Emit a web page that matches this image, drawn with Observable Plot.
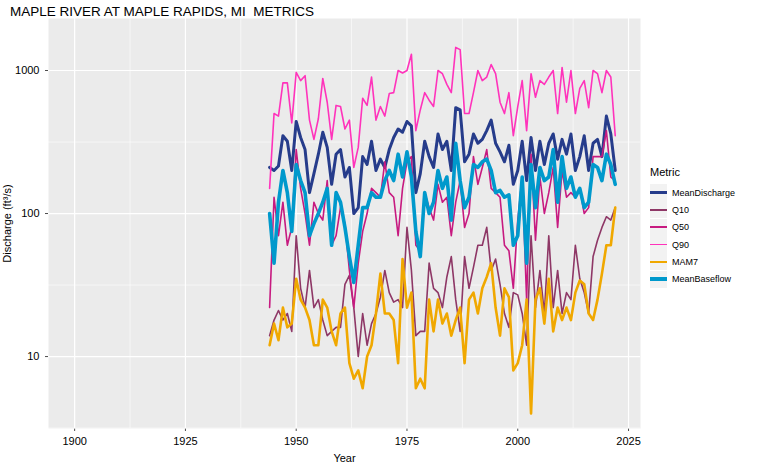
<!DOCTYPE html>
<html>
<head>
<meta charset="UTF-8">
<script src="https://cdn.jsdelivr.net/npm/d3@7"></script>
<script src="https://cdn.jsdelivr.net/npm/@observablehq/plot@0.6"></script>
<style>
  body { margin: 0; background: #fff; font-family: "Liberation Sans", Arial, sans-serif; }
  #wrap { position: relative; width: 757px; height: 464px; }
  #title { position: absolute; left: 10px; top: 4px; font-size: 13.5px; color: #000; }
  #legend { position: absolute; left: 650px; top: 166px; font-size: 9px; color: #000; }
  #legend .t { font-size: 11px; margin-bottom: 6px; }
  #legend .row { display: flex; align-items: center; height: 17.3px; }
  #legend .sw { width: 17px; height: 17px; background: #F2F2F2; display: flex; align-items: center; margin-right: 5px; }
  #legend .sw span { display: block; width: 100%; }
</style>
</head>
<body>
<div id="wrap">
  <div id="title">MAPLE RIVER AT MAPLE RAPIDS, MI&nbsp; METRICS</div>
  <div id="chart"></div>
  <div id="legend"></div>
</div>
<script type="module">
const years = d3.range(1944, 2023);

const meanDischarge = [210,200,215,350,320,200,440,340,280,140,190,260,370,290,160,260,280,180,210,100,110,250,220,320,200,240,210,280,340,390,370,440,410,140,190,320,250,210,360,280,320,200,550,530,230,260,360,310,330,380,450,310,270,230,300,160,200,320,170,340,200,320,220,310,360,240,330,260,360,200,250,350,200,310,330,250,480,360,200];
const q10 = [14,18,21,18,20,15,70,30,22,40,22,25,18,14,15,16,16,32,37,22,10,20,12,17,20,26,40,28,24,25,22,80,40,14,15,15,45,30,28,22,36,50,25,15,50,30,42,60,60,80,40,48,32,20,16,28,27,20,12,70,22,40,20,70,22,40,20,28,25,60,35,28,20,50,65,80,95,90,110];
const q50 = [22,130,70,120,60,80,280,150,100,60,120,100,90,170,60,70,110,85,40,22,45,75,100,150,140,130,230,140,130,70,150,230,250,60,55,140,110,90,160,120,130,70,120,170,80,100,250,160,210,280,150,140,130,60,55,30,90,180,25,260,65,180,100,140,210,80,200,130,140,130,150,100,110,250,250,250,380,180,170];
const q90 = [150,500,480,820,820,430,970,850,920,450,330,460,880,600,330,570,560,390,450,210,290,640,570,900,450,560,480,690,700,1000,960,1000,1300,380,530,700,620,560,1000,950,800,700,1450,1400,500,500,700,1000,850,900,1100,950,600,500,700,350,560,850,380,950,650,850,800,900,1000,500,1050,600,1000,500,750,850,550,1000,950,700,1000,900,350];
const mam7 = [12,17,13,22,16,17,35,25,22,18,12,12,25,22,15,12,20,22,9,7,8,6,10,12,20,38,20,20,18,9,48,22,28,6,7,6,25,15,25,17,20,14,18,22,9,25,28,20,30,36,45,22,14,30,26,8,9,12,25,4,25,30,17,35,15,22,18,22,18,28,34,32,20,18,25,38,60,60,110];
const meanBaseflow = [100,45,120,200,140,75,220,170,140,70,85,100,120,150,60,140,120,80,50,33,60,110,110,140,130,130,170,200,170,260,180,270,180,75,50,140,100,120,200,150,180,90,310,170,110,130,220,210,230,240,200,140,145,130,135,60,70,180,45,220,110,210,170,180,280,120,250,150,180,130,150,110,120,220,210,170,260,220,160];

const metrics = ["MeanDischarge", "Q10", "Q50", "Q90", "MAM7", "MeanBaseflow"];
const colors = ["#263C8B", "#8E3766", "#C71A80", "#FF33BB", "#F0A800", "#0099CC"];
const widths = [3, 1.6, 1.6, 1.6, 2.6, 3.6];
const seriesValues = [meanDischarge, q10, q50, q90, mam7, meanBaseflow];

const xMajor = [1900, 1925, 1950, 1975, 2000, 2025];
const xMinor = [1912.5, 1937.5, 1962.5, 1987.5, 2012.5];
const yMajor = [10, 100, 1000];
const yMinor = [3.162, 31.62, 316.2];

const rows = metrics.flatMap((m, i) => years.map((y, j) => ({metric: m, year: y, value: seriesValues[i][j]})));

const chart = Plot.plot({
  width: 757,
  height: 464,
  marginLeft: 48,
  marginTop: 18,
  marginBottom: 36,
  marginRight: 117,
  style: {fontFamily: "Liberation Sans, Arial, sans-serif", fontSize: "9px", color: "#4D4D4D", background: "#fff"},
  x: {domain: [1894.1, 2027.7], ticks: xMajor, tickFormat: d => String(d), label: "Year", labelAnchor: "center", labelArrow: "none", tickSize: 3},
  y: {type: "log", domain: [3.14, 2310], ticks: yMajor, tickFormat: d => String(d), label: "Discharge (ft³/s)", labelAnchor: "center", labelArrow: "none", tickSize: 3},
  marks: [
    Plot.frame({fill: "#EBEBEB"}),
    Plot.ruleX(xMinor, {stroke: "#fff", strokeWidth: 0.6}),
    Plot.ruleY(yMinor, {stroke: "#fff", strokeWidth: 0.6}),
    Plot.ruleX(xMajor, {stroke: "#fff", strokeWidth: 1.2}),
    Plot.ruleY(yMajor, {stroke: "#fff", strokeWidth: 1.2}),
    ...metrics.map((m, i) => Plot.line(rows.filter(r => r.metric === m), {
      x: "year", y: "value", stroke: colors[i], strokeWidth: widths[i]
    }))
  ]
});
chart.querySelectorAll('[aria-label$="axis label"] text, [aria-label$="label"] text').forEach(t => { t.style.fontSize = "11px"; t.style.fill = "#000"; });
document.getElementById("chart").appendChild(chart);

const legend = document.getElementById("legend");
legend.innerHTML = '<div class="t">Metric</div>' + metrics.map((m, i) =>
  `<div class="row"><div class="sw"><span style="height:${widths[i]}px;background:${colors[i]}"></span></div>${m}</div>`).join("");
</script>
</body>
</html>
